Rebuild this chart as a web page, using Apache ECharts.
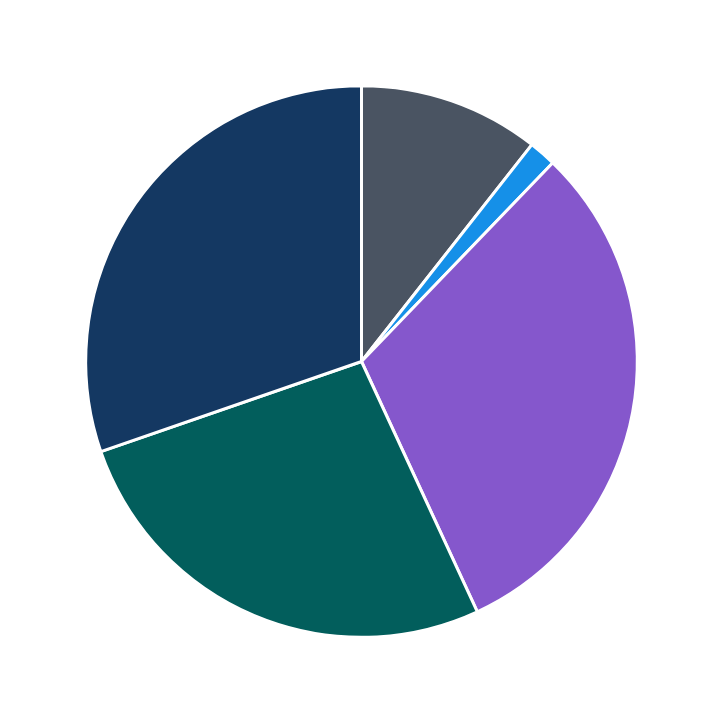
<!DOCTYPE html>
<html><head><meta charset="utf-8">
<script src="https://cdn.jsdelivr.net/npm/echarts@6/dist/echarts.min.js"></script>
<style>html,body{margin:0;padding:0;background:#fff}#c{width:723px;height:723px}</style>
</head><body><div id="c"></div>
<script>
const categories = ['A','B','C','D','E'];
const values = [10.6, 1.6, 30.9, 26.6, 30.3];
const colors = ['#4a5462','#1590e8','#8557cc','#025e5c','#143862'];
const data = categories.map((n,i)=>({name:n,value:values[i],itemStyle:{color:colors[i]}}));
const chart = echarts.init(document.getElementById('c'));
chart.setOption({
  animation:false,
  series:[
    {type:'pie',center:['50%','50%'],radius:[0,'76.3%'],startAngle:90,clockwise:true,
     itemStyle:{borderColor:'#fff',borderWidth:3},label:{show:false},labelLine:{show:false},data:data},
    {type:'pie',silent:true,center:['50%','50%'],radius:['53%','76.3%'],startAngle:90,clockwise:true,
     itemStyle:{opacity:0},
     label:{show:true,position:'inside',color:'#fff',fontSize:21,fontWeight:'bold',fontFamily:'DejaVu Sans',
       formatter:p=>Math.round(p.value)+'%'},
     labelLine:{show:false},data:data}
  ]
});
</script></body></html>
